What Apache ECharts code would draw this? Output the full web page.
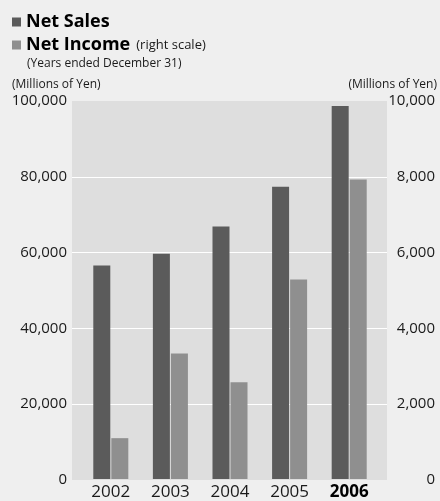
<!DOCTYPE html>
<html>
<head>
<meta charset="utf-8">
<script src="https://cdn.jsdelivr.net/npm/echarts@6/dist/echarts.min.js"></script>
<style>
html,body{margin:0;padding:0;background:#efefef;}
#c{width:440px;height:501px;}
</style>
</head>
<body>
<div id="c"></div>
<script>
var years = ['2002', '2003', '2004', '2005', '2006'];
var netSales = [56500, 59600, 66800, 77300, 98700];
var netIncome = [1080, 3320, 2560, 5280, 7920];
var leftTicks = { min: 0, max: 100000, interval: 20000 };
var rightTicks = { min: 0, max: 10000, interval: 2000 };

var FONT = '"Open Sans", "Noto Sans", sans-serif';
var TXT = '#1a1a1a';
var chart = echarts.init(document.getElementById('c'), null, { renderer: 'canvas' });

function fmt(v) { return v.toLocaleString('en-US'); }

chart.setOption({
  backgroundColor: '#efefef',
  animation: false,
  textStyle: { fontFamily: FONT, color: TXT },
  legend: {
    orient: 'vertical',
    left: 7,
    top: 8,
    itemWidth: 9,
    itemHeight: 9,
    itemGap: 5,
    icon: 'rect',
    selectedMode: false,
    data: ['Net Sales', 'Net Income'],
    formatter: function (n) {
      return n === 'Net Income' ? '{b|Net Income}{s|(right scale)}' : '{b|' + n + '}';
    },
    textStyle: {
      fontFamily: FONT,
      color: '#000',
      rich: {
        b: { fontFamily: FONT, fontSize: 18, fontWeight: 'bold', color: '#000' },
        s: { fontFamily: FONT, fontSize: 13, color: TXT, padding: [0, 0, 0, 6] }
      }
    }
  },
  graphic: [
    { type: 'text', left: 27, top: 58, style: { text: '(Years ended December 31)', font: '12px ' + FONT, fill: TXT } },
    { type: 'text', left: 12, top: 79, style: { text: '(Millions of Yen)', font: '12px ' + FONT, fill: TXT } },
    { type: 'text', right: 3, top: 79, style: { text: '(Millions of Yen)', font: '12px ' + FONT, fill: TXT } }
  ],
  grid: [
    { left: 72, right: 53, top: 101, bottom: 21, show: true, backgroundColor: '#dedede', borderWidth: 0 },
    { left: 81, right: 61, top: 101, bottom: 21 }
  ],
  xAxis: [
    { type: 'category', gridIndex: 0, data: years, show: false },
    {
      type: 'category', gridIndex: 1, data: years,
      axisLine: { show: false }, axisTick: { show: false },
      axisLabel: {
        interval: 0, hideOverlap: false,
        margin: 5, fontSize: 17, fontFamily: FONT, color: TXT,
        formatter: function (v) { return v === '2006' ? '{b|' + v + '}' : v; },
        rich: { b: { fontSize: 17, fontWeight: 'bold', fontFamily: FONT, color: '#000' } }
      }
    }
  ],
  yAxis: [
    {
      type: 'value', gridIndex: 0, position: 'left',
      min: leftTicks.min, max: leftTicks.max, interval: leftTicks.interval,
      axisLine: { show: false }, axisTick: { show: false },
      splitLine: { show: true, showMinLine: false, showMaxLine: false, lineStyle: { color: '#ffffff', width: 1 } },
      axisLabel: { margin: 5, fontSize: 15, fontFamily: FONT, color: TXT, formatter: fmt }
    },
    {
      type: 'value', gridIndex: 0, position: 'right',
      min: rightTicks.min, max: rightTicks.max, interval: rightTicks.interval,
      axisLine: { show: false }, axisTick: { show: false }, splitLine: { show: false },
      axisLabel: { margin: 48, align: 'right', fontSize: 15, fontFamily: FONT, color: TXT, formatter: fmt }
    },
    {
      type: 'value', gridIndex: 1, position: 'left',
      min: leftTicks.min, max: leftTicks.max, interval: leftTicks.interval,
      axisLine: { show: false }, axisTick: { show: false }, splitLine: { show: false }, axisLabel: { show: false }
    },
    {
      type: 'value', gridIndex: 1, position: 'right',
      min: rightTicks.min, max: rightTicks.max, interval: rightTicks.interval,
      axisLine: { show: false }, axisTick: { show: false }, splitLine: { show: false }, axisLabel: { show: false }
    }
  ],
  series: [
    {
      name: 'Net Sales', type: 'bar', xAxisIndex: 1, yAxisIndex: 2,
      data: netSales, barWidth: 17, barGap: '6%',
      itemStyle: { color: '#5b5b5b' }
    },
    {
      name: 'Net Income', type: 'bar', xAxisIndex: 1, yAxisIndex: 3,
      data: netIncome, barWidth: 17,
      itemStyle: { color: '#8f8f8f' }
    }
  ]
});
</script>
</body>
</html>
